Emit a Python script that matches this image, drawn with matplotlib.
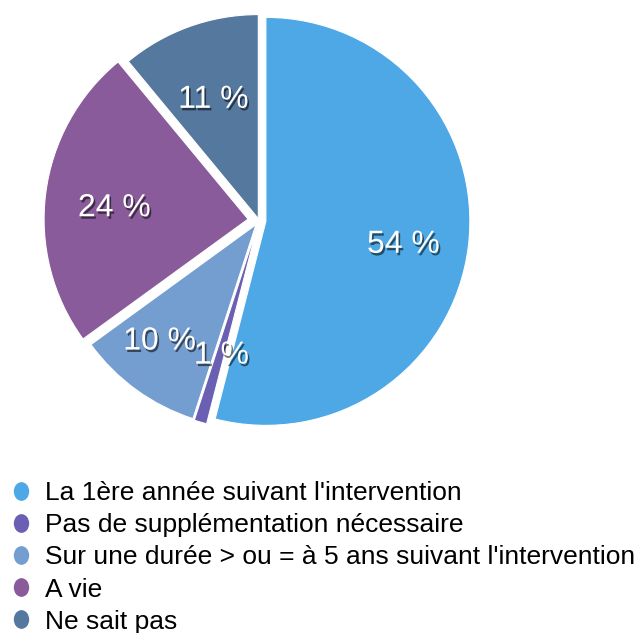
import matplotlib
matplotlib.use("Agg")
import numpy as np
import matplotlib.pyplot as plt
import matplotlib.patheffects as pe
from matplotlib.lines import Line2D
from matplotlib.markers import MarkerStyle
from matplotlib.transforms import Affine2D, ScaledTranslation

plt.rcParams['font.family'] = ['Liberation Sans', 'DejaVu Sans']

categories = [
    "La 1ère année suivant l'intervention",
    "Pas de supplémentation nécessaire",
    "Sur une durée > ou = à 5 ans suivant l'intervention",
    "A vie",
    "Ne sait pas",
]
values = [54, 1, 10, 24, 11]
colors = ["#4DA8E5", "#6A5FB2", "#749ECF", "#8A5B9A", "#55789E"]

W, H = 643, 633
fig = plt.figure(figsize=(W / 100, H / 100), dpi=100)

# pie axes: center ~ (259, 220.5) px, radius ~ 204 px
cx, cy, R = 259, 220.5, 204
L = 1.12  # axis half-extent in radius units
S = R * L
ax = fig.add_axes([(cx - S) / W, (H - cy - S) / H, 2 * S / W, 2 * S / H])

shadow = [pe.SimplePatchShadow(offset=(1.2, -1.8), shadow_rgbFace='black', alpha=0.55), pe.Normal()]

wedges, texts, autotexts = ax.pie(
    values,
    colors=colors,
    startangle=90,
    counterclock=False,
    explode=[0.034, 0.029, 0.025, 0.054, 0.01],
    autopct=lambda p: f"{p:.0f} %",
    pctdistance=0.67,
    wedgeprops=dict(edgecolor="white", linewidth=0.8),
    textprops=dict(color="white", fontsize=23),
)
# per-slice label placement (style), then shift glyphs down to centre them visually
label_dist = [0.68, 0.63, 0.72, 0.66, 0.65]
label_rot = [0, 0, -5, 0, 0]
down = ScaledTranslation(0, -6 / 100, fig.dpi_scale_trans)
for w, t, d, r in zip(wedges, autotexts, label_dist, label_rot):
    ang = np.deg2rad((w.theta1 + w.theta2) / 2 + r)
    t.set_position((w.center[0] + d * w.r * np.cos(ang), w.center[1] + d * w.r * np.sin(ang)))
    t.set_transform(ax.transData + down)
    t.set_path_effects(shadow)
ax.set_xlim(-L, L)
ax.set_ylim(-L, L)
ax.set_aspect('equal')
ax.axis('off')

ell = MarkerStyle('o', transform=Affine2D().scale(0.82, 1.0))
handles = [Line2D([], [], linestyle='none', marker=ell, markersize=13.5,
                  markerfacecolor=c, markeredgecolor='none') for c in colors]
fig.legend(handles, categories, loc='upper left', bbox_to_anchor=(11 / W, 1 - 481 / H),
           frameon=False, fontsize=19, handlelength=0.75, handletextpad=0.55,
           labelspacing=0.31, borderpad=0.0, borderaxespad=0.0)

fig.savefig("out.png", dpi=100, facecolor="white")
